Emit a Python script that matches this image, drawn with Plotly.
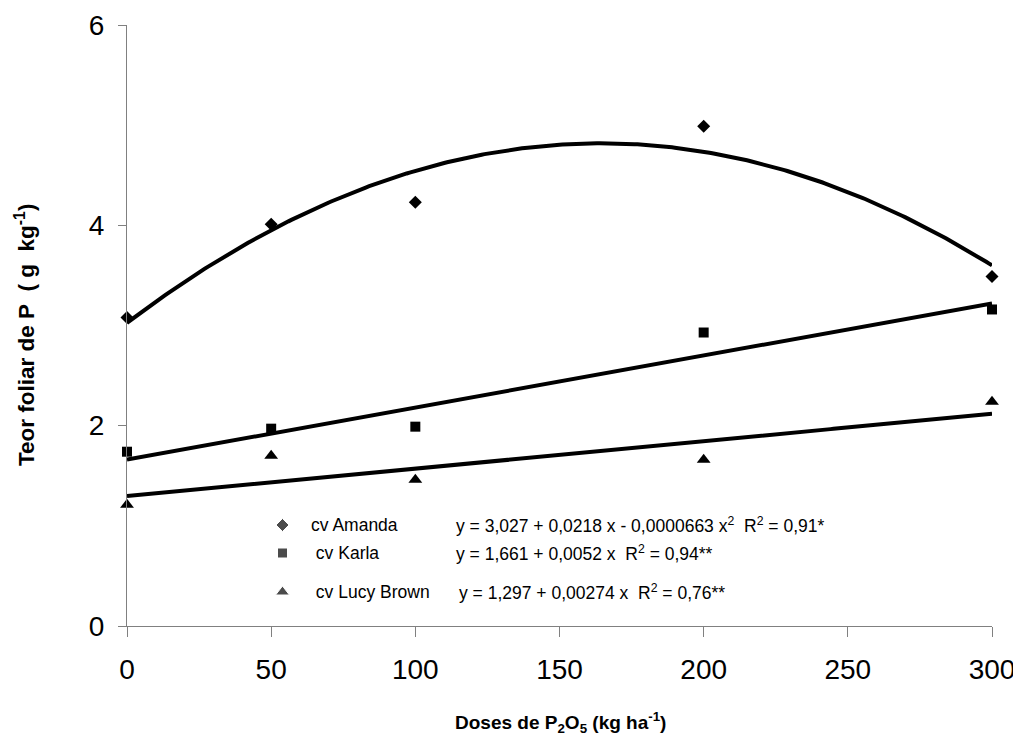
import numpy as np
import plotly.graph_objects as go

# ---------------- data ----------------
doses = [0, 50, 100, 200, 300]
amanda = [3.08, 4.01, 4.23, 4.99, 3.49]
karla = [1.74, 1.97, 1.99, 2.93, 3.16]
lucy = [1.21, 1.70, 1.46, 1.66, 2.24]

# regression coefficients printed in the chart (c0, c1, c2 ...)
amanda_coef = [3.027, 0.0218, -0.0000663]
karla_coef = [1.661, 0.0052]
lucy_coef = [1.297, 0.00274]

cultivars = ["cv Amanda", "&nbsp;cv Karla", "&nbsp;cv Lucy Brown"]
equations = [
    "y = 3,027 + 0,0218 x - 0,0000663 x<sup>2</sup>&nbsp; R<sup>2</sup> = 0,91*",
    "y = 1,661 + 0,0052 x&nbsp; R<sup>2</sup> = 0,94**",
    "y = 1,297 + 0,00274 x&nbsp; R<sup>2</sup> = 0,76**",
]
x_ticks = [0, 50, 100, 150, 200, 250, 300]
y_ticks = [0, 2, 4, 6]

# ---------------- layout constants ----------------
OFF = 8                      # page body margin of the written html
W, H = 1021 - OFF, 740 - OFF
ML, MR, MT, MB = 127 - OFF, 29, 25 - OFF, 114
PW, PH = W - ML - MR, H - MT - MB
FONT = "Liberation Sans, Arial, sans-serif"
AXC = "#808080"


def px_x(p):
    """screen pixel x -> plot-area fraction"""
    return (p - OFF - ML) / PW


def px_y(p):
    """screen pixel y -> plot-area fraction"""
    return (H - MB - (p - OFF)) / PH


def poly(coef, x):
    x = np.asarray(x, dtype=float)
    return sum(c * x ** i for i, c in enumerate(coef))


xfit = np.linspace(min(doses), max(doses), 301)

symbols = ["diamond", "square", "triangle-up"]
msizes = [10, 10, 12]
series = [amanda, karla, lucy]
coefs = [amanda_coef, karla_coef, lucy_coef]

fig = go.Figure()

for vals, coef, sym, ms, name in zip(series, coefs, symbols, msizes, cultivars):
    fig.add_trace(go.Scatter(
        x=xfit, y=poly(coef, xfit), mode="lines",
        line=dict(color="black", width=4), showlegend=False,
        hoverinfo="skip"))
    fig.add_trace(go.Scatter(
        x=doses, y=vals, mode="markers", name=name,
        marker=dict(symbol=sym, size=ms, color="black"),
        cliponaxis=False, showlegend=False))

# legend glyphs (drawn on a hidden overlay axis in plot-area fractions)
leg_x = px_x(282.5)
leg_rows = [px_y(525), px_y(553), px_y(592)]
fig.add_trace(go.Scatter(
    x=[leg_x] * 3, y=leg_rows, mode="markers", xaxis="x2", yaxis="y2",
    marker=dict(symbol=symbols, size=msizes, color="black"),
    showlegend=False, hoverinfo="skip", cliponaxis=False))

annotations = []
name_x = px_x(309)
eq_x = [px_x(454), px_x(454), px_x(457)]
for i in range(3):
    annotations.append(dict(
        x=name_x, y=leg_rows[i], xref="paper", yref="paper",
        text=cultivars[i], showarrow=False, xanchor="left", yanchor="middle",
        font=dict(family=FONT, size=17.5, color="black")))
    annotations.append(dict(
        x=eq_x[i], y=leg_rows[i], xref="paper", yref="paper",
        text=equations[i], showarrow=False, xanchor="left", yanchor="middle",
        font=dict(family=FONT, size=17.5, color="black")))

# axis titles
annotations.append(dict(
    x=px_x(560), y=px_y(722), xref="paper", yref="paper",
    text="Doses de P<sub>2</sub>O<sub>5</sub> (kg ha<sup>-1</sup>)",
    showarrow=False, xanchor="center", yanchor="middle",
    font=dict(family=FONT, size=19, color="black", weight="bold")))
annotations.append(dict(
    x=px_x(25), y=px_y(335), xref="paper", yref="paper",
    text="Teor foliar de P&nbsp; (&nbsp;g&nbsp; kg<sup>-1</sup>)",
    showarrow=False, xanchor="center", yanchor="middle", textangle=-90,
    font=dict(family=FONT, size=22.5, color="black", weight="bold")))

fig.update_layout(
    width=W, height=H,
    margin=dict(l=ML, r=MR, t=MT, b=MB, autoexpand=False),
    paper_bgcolor="white", plot_bgcolor="white",
    showlegend=False,
    annotations=annotations,
    xaxis=dict(
        range=[0, 300], tickvals=x_ticks, ticktext=[str(v) for v in x_ticks],
        showgrid=False, zeroline=False, showline=True, linecolor=AXC,
        linewidth=1, ticks="outside", ticklen=10, tickcolor=AXC,
        ticklabelstandoff=8,
        tickfont=dict(family=FONT, size=28, color="black")),
    yaxis=dict(
        range=[0, 6], tickvals=y_ticks, ticktext=[str(v) for v in y_ticks],
        showgrid=False, zeroline=False, showline=True, linecolor=AXC,
        linewidth=1, ticks="outside", ticklen=8, tickcolor=AXC,
        ticklabelstandoff=8,
        tickfont=dict(family=FONT, size=28, color="black")),
    xaxis2=dict(overlaying="x", range=[0, 1], visible=False),
    yaxis2=dict(overlaying="y", range=[0, 1], visible=False),
)

fig.write_html("out.html")
